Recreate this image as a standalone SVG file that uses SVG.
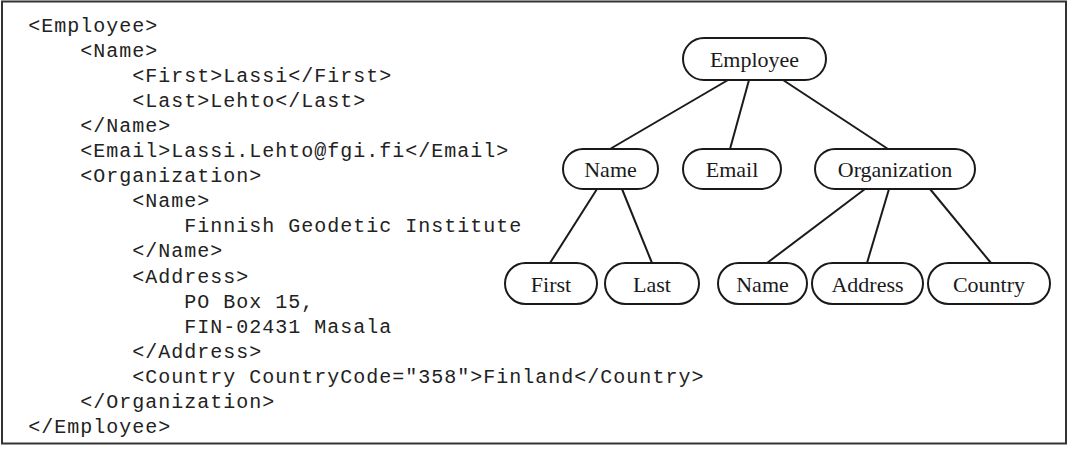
<svg xmlns="http://www.w3.org/2000/svg" width="1071" height="450" viewBox="0 0 1071 450">
<style>
.code{font-family:"Liberation Mono","Courier New",monospace;font-size:20px;letter-spacing:1px;fill:#222}
.pill{fill:#fff;stroke:#1a1a1a;stroke-width:2}
.lbl{font-family:"Liberation Serif","Times New Roman",serif;font-size:22px;fill:#1a1a1a;text-anchor:middle}
.edge{stroke:#1a1a1a;stroke-width:2;fill:none}
</style>
<rect x="0" y="0" width="1071" height="450" fill="#fff"/>
<rect x="2" y="1.5" width="1064" height="442" fill="none" stroke="#333" stroke-width="2"/>
<g id="code">
<text class="code" x="28.3" y="31.5">&lt;Employee&gt;</text>
<text class="code" x="80.3" y="56.6">&lt;Name&gt;</text>
<text class="code" x="132.3" y="81.7">&lt;First&gt;Lassi&lt;/First&gt;</text>
<text class="code" x="132.3" y="106.8">&lt;Last&gt;Lehto&lt;/Last&gt;</text>
<text class="code" x="80.3" y="131.9">&lt;/Name&gt;</text>
<text class="code" x="80.3" y="157">&lt;Email&gt;Lassi.Lehto@fgi.fi&lt;/Email&gt;</text>
<text class="code" x="80.3" y="182.1">&lt;Organization&gt;</text>
<text class="code" x="132.3" y="207.2">&lt;Name&gt;</text>
<text class="code" x="184.3" y="232.3">Finnish Geodetic Institute</text>
<text class="code" x="132.3" y="257.4">&lt;/Name&gt;</text>
<text class="code" x="132.3" y="282.5">&lt;Address&gt;</text>
<text class="code" x="184.3" y="307.6">PO Box 15,</text>
<text class="code" x="184.3" y="332.7">FIN-02431 Masala</text>
<text class="code" x="132.3" y="357.8">&lt;/Address&gt;</text>
<text class="code" x="132.3" y="382.9">&lt;Country CountryCode="358"&gt;Finland&lt;/Country&gt;</text>
<text class="code" x="80.3" y="408">&lt;/Organization&gt;</text>
<text class="code" x="28.3" y="433.1">&lt;/Employee&gt;</text>
</g>
<g id="connectors">
<line class="edge" x1="728" y1="80" x2="610" y2="149"/>
<line class="edge" x1="749" y1="80" x2="730" y2="149"/>
<line class="edge" x1="783" y1="80" x2="888" y2="149"/>
<line class="edge" x1="597" y1="189" x2="550" y2="263"/>
<line class="edge" x1="622" y1="189" x2="652" y2="263"/>
<line class="edge" x1="865" y1="189" x2="767" y2="263"/>
<line class="edge" x1="889" y1="189" x2="867" y2="263"/>
<line class="edge" x1="930" y1="189" x2="991" y2="263"/>
</g>
<g id="node-employee">
<rect class="pill" x="683" y="38" width="143" height="42" rx="21"/>
<text class="lbl" x="754.5" y="67">Employee</text>
</g>
<g id="node-name">
<rect class="pill" x="563" y="149" width="95" height="40" rx="20"/>
<text class="lbl" x="610.5" y="177">Name</text>
</g>
<g id="node-email">
<rect class="pill" x="683" y="149" width="98" height="40" rx="20"/>
<text class="lbl" x="732" y="177">Email</text>
</g>
<g id="node-organization">
<rect class="pill" x="815" y="149" width="160" height="40" rx="20"/>
<text class="lbl" x="895" y="177">Organization</text>
</g>
<g id="node-first">
<rect class="pill" x="505" y="263" width="92" height="41" rx="20.5"/>
<text class="lbl" x="551" y="291.5">First</text>
</g>
<g id="node-last">
<rect class="pill" x="605" y="263" width="94" height="41" rx="20.5"/>
<text class="lbl" x="652" y="291.5">Last</text>
</g>
<g id="node-org-name">
<rect class="pill" x="718" y="263" width="89" height="41" rx="20.5"/>
<text class="lbl" x="762.5" y="291.5">Name</text>
</g>
<g id="node-address">
<rect class="pill" x="812" y="263" width="111" height="41" rx="20.5"/>
<text class="lbl" x="867.5" y="291.5">Address</text>
</g>
<g id="node-country">
<rect class="pill" x="928" y="263" width="122" height="41" rx="20.5"/>
<text class="lbl" x="989" y="291.5">Country</text>
</g>
</svg>
